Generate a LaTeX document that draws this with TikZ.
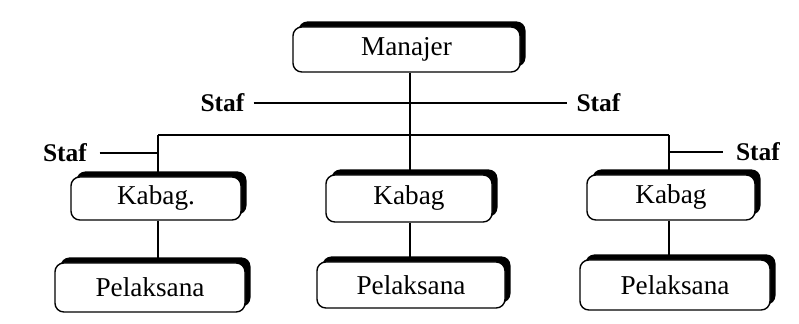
\documentclass[tikz,border=0pt]{standalone}
\usepackage{fontspec}
\setmainfont{Liberation Serif}
\usetikzlibrary{positioning, shadows}

\begin{document}
\begin{tikzpicture}[
    box/.style={draw, line width=0.8pt, rounded corners=5pt, fill=white,
        drop shadow={shadow xshift=0.11cm, shadow yshift=0.11cm, opacity=1, fill=black},
        font=\fontsize{15.5}{17}\selectfont, inner sep=0pt},
    lbl/.style={font=\fontsize{14.5}{16}\selectfont\bfseries, inner sep=1pt},
    conn/.style={line width=0.8pt}]
    \useasboundingbox (0,0) rectangle (15.98,6.48);
    % Top box
    \node[box, minimum width=4.54cm, minimum height=0.9cm] (mgr) at (8.13,5.49) {Manajer};
    % Kabag row
    \node[box, minimum width=3.4cm, minimum height=0.86cm] (kab1) at (3.12,2.51) {Kabag.};
    \node[box, minimum width=3.32cm, minimum height=0.94cm] (kab2) at (8.18,2.51) {Kabag};
    \node[box, minimum width=3.36cm, minimum height=0.9cm] (kab3) at (13.42,2.53) {Kabag};
    % Pelaksana row
    \node[box, minimum width=3.8cm, minimum height=0.98cm] (pel1) at (3.0,0.73) {Pelaksana};
    \node[box, minimum width=3.76cm, minimum height=0.92cm] (pel2) at (8.22,0.78) {Pelaksana};
    \node[box, minimum width=3.8cm, minimum height=1.0cm] (pel3) at (13.5,0.78) {Pelaksana};
    % Staf labels
    \node[lbl] (staf1) at (4.45,4.42) {Staf};
    \node[lbl] (staf2) at (11.97,4.42) {Staf};
    \node[lbl] (staf3) at (1.3,3.42) {Staf};
    \node[lbl] (staf4) at (15.16,3.44) {Staf};
    % Bus line
    \coordinate (busL) at (3.16,3.78);
    \coordinate (busR) at (13.38,3.78);
    \coordinate (busM) at (8.2,3.78);
    % Connectors
    \draw[conn] (mgr.south -| busM) -- (busM |- kab2.north);
    \draw[conn] (busL) -- (busR);
    \draw[conn] (busL) -- (busL |- kab1.north);
    \draw[conn] (busR) -- (busR |- kab3.north);
    \draw[conn] (busL |- kab1.south) -- (busL |- pel1.north);
    \draw[conn] (busM |- kab2.south) -- (busM |- pel2.north);
    \draw[conn] (busR |- kab3.south) -- (busR |- pel3.north);
    % Staf lines
    \draw[conn] ([xshift=4pt]staf1.east) -- ([xshift=-4pt]staf2.west);
    \draw[conn] ([xshift=6pt]staf3.east) -- (busL |- staf3.east);
    \draw[conn] (busR |- staf4.west) -- ([xshift=-6pt]staf4.west);
\end{tikzpicture}
\end{document}
